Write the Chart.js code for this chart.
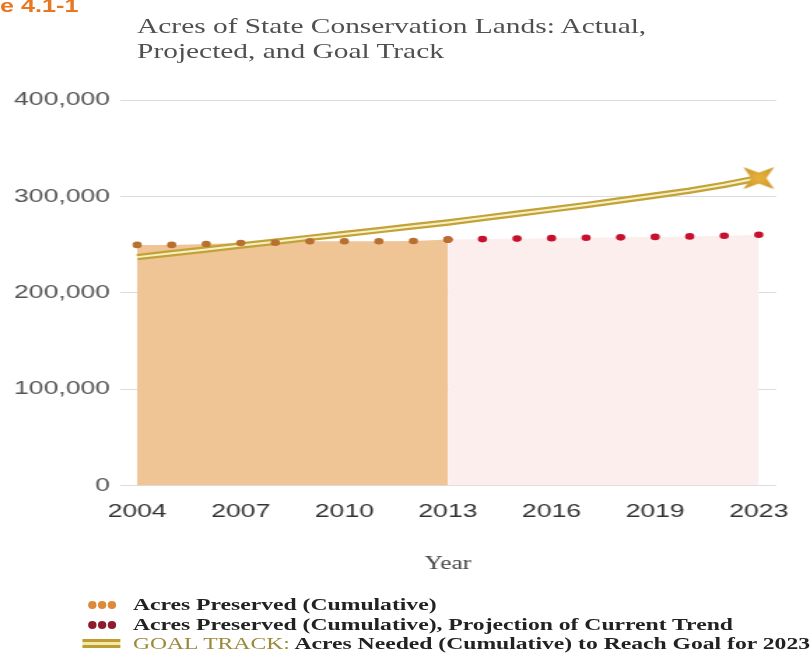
<!DOCTYPE html>
<html>
<head>
<meta charset="utf-8">
<script src="https://cdn.jsdelivr.net/npm/chart.js@4.4.1/dist/chart.umd.min.js"></script>
<style>
  html, body { margin: 0; padding: 0; background: #fff; overflow: hidden; }
  /* the reference is stretched sideways, so the whole page is laid out narrow and widened */
  #wrap {
    position: relative; width: 579px; height: 667px;
    transform: scaleX(1.399); transform-origin: 0 0;
  }
  #chart { position: absolute; left: 0; top: 0; }
  .fig {
    position: absolute; left: -45px; top: -4px; line-height: 18px;
    font: bold 18px "Liberation Sans", Arial, sans-serif; color: #e87722; white-space: nowrap;
  }
  .title {
    position: absolute; left: 98px; top: 14px; line-height: 28px;
    font: 21px "Liberation Serif", "Times New Roman", serif; color: #505050; white-space: nowrap;
  }
  .legend { position: absolute; left: 0; top: 0; }
  .row {
    position: absolute; left: 58px; height: 20px; line-height: 20px; white-space: nowrap;
    font: bold 16.9px "Liberation Serif", "Times New Roman", serif; color: #222;
  }
  .row .icon { position: absolute; left: 0; top: 0; width: 30px; height: 20px; }
  .row .txt { position: absolute; left: 37px; top: 0; }
  .dot { position: absolute; top: 6px; width: 6.2px; height: 8px; border-radius: 50%; }
  .dbl {
    position: absolute; left: 1px; top: 5px; width: 27px; height: 2.5px;
    border-top: 3px solid #bf9d32; border-bottom: 3px solid #bf9d32; background: #f2eaa8;
  }
  .goal { color: #9c8a3c; font-weight: normal; }
</style>
</head>
<body>
<div id="wrap">
  <canvas id="chart" width="579" height="667" style="width:579px;height:667px"></canvas>
  <div class="fig">Figure 4.1-1</div>
  <div class="title">Acres of State Conservation Lands: Actual,<br>Projected, and Goal Track</div>
  <div class="legend">
    <div class="row" style="top:595px">
      <div class="icon">
        <span class="dot" style="left:4.5px;background:#dd8a3a"></span>
        <span class="dot" style="left:11.5px;background:#dd8a3a"></span>
        <span class="dot" style="left:18.5px;background:#dd8a3a"></span>
      </div>
      <span class="txt">Acres Preserved (Cumulative)</span>
    </div>
    <div class="row" style="top:615px">
      <div class="icon">
        <span class="dot" style="left:4.5px;background:#8e1b2e"></span>
        <span class="dot" style="left:11.5px;background:#8e1b2e"></span>
        <span class="dot" style="left:18.5px;background:#8e1b2e"></span>
      </div>
      <span class="txt">Acres Preserved (Cumulative), Projection of Current Trend</span>
    </div>
    <div class="row" style="top:634px">
      <div class="icon"><span class="dbl"></span></div>
      <span class="txt"><span class="goal">GOAL TRACK:</span> Acres Needed (Cumulative) to Reach Goal for 2023</span>
    </div>
  </div>
</div>

<script>
// categories (one per year, last one is the goal year)
const years = ['2004', '2005', '2006', '2007', '2008', '2009', '2010', '2011', '2012', '2013',
               '2014', '2015', '2016', '2017', '2018', '2019', '2020', '2021', '2023'];

// acres
const acresPreserved = [249700, 249700, 250700, 251700, 252000, 253500, 253500, 253500, 253800, 255200,
                        null, null, null, null, null, null, null, null, null];
const acresProjected = [null, null, null, null, null, null, null, null, null, 255200,
                        255700, 256200, 256700, 257100, 257500, 258000, 258500, 259200, 260200];
const goalTrack = [237000, 241000, 245000, 249000, 253000, 257000, 261000, 265000, 269000, 273000,
                   277500, 282000, 286500, 291000, 296000, 301000, 306000, 312000, 319000];

const yTicks = [0, 100000, 200000, 300000, 400000];

// 4 point star used for the goal marker
function makeStar() {
    const c = document.createElement('canvas');
    c.width = 34;
    c.height = 34;
    const g = c.getContext('2d');
    g.translate(17, 17);
    g.beginPath();
    for (let i = 0; i < 8; i++) {
        const a = Math.PI / 4 + i * Math.PI / 4;
        const r = i % 2 === 0 ? 15.5 : 5.5;
        g.lineTo(Math.cos(a) * r, Math.sin(a) * r);
    }
    g.closePath();
    const grad = g.createRadialGradient(0, 0, 1, 0, 0, 15);
    grad.addColorStop(0, '#e6b03a');
    grad.addColorStop(1, '#c8962a');
    g.fillStyle = grad;
    g.fill();
    return c;
}
const star = makeStar();
const lastIdx = goalTrack.length - 1;

const ctx = document.getElementById('chart').getContext('2d');
new Chart(ctx, {
    type: 'line',
    data: {
        labels: years,
        datasets: [
            {
                label: 'Acres Preserved (Cumulative)',
                data: acresPreserved,
                borderColor: 'transparent',
                borderWidth: 0,
                backgroundColor: '#f0c596',
                fill: 'origin',
                pointRadius: 3.3,
                pointBorderWidth: 0,
                pointBackgroundColor: '#b8702f',
                tension: 0
            },
            {
                label: 'Acres Preserved (Cumulative), Projection of Current Trend',
                data: acresProjected,
                borderColor: 'transparent',
                borderWidth: 0,
                backgroundColor: '#fdeeee',
                fill: 'origin',
                pointRadius: 3.3,
                pointBorderWidth: 0,
                pointBackgroundColor: '#c8102e',
                tension: 0
            },
            {
                label: 'GOAL TRACK',
                data: goalTrack,
                borderColor: '#f6f1c4',
                borderWidth: 2,
                fill: false,
                tension: 0,
                pointBorderWidth: 0,
                pointRadius: (c) => c.dataIndex === lastIdx ? 10 : 0,
                pointStyle: (c) => c.dataIndex === lastIdx ? star : 'circle'
            },
            {
                label: 'GOAL TRACK outline',
                data: goalTrack,
                borderColor: '#c4a23a',
                borderWidth: 6.5,
                fill: false,
                tension: 0,
                pointRadius: 0
            }
        ]
    },
    options: {
        responsive: false,
        animation: false,
        events: [],
        layout: { padding: { left: 3, right: 19.5, top: 100, bottom: 92 } },
        plugins: {
            legend: { display: false },
            tooltip: { enabled: false },
            filler: { drawTime: 'beforeDatasetsDraw' }
        },
        scales: {
            x: {
                offset: true,
                grid: { display: false, drawTicks: false },
                border: { display: false },
                ticks: {
                    autoSkip: false,
                    maxRotation: 0,
                    padding: 15,
                    color: '#333',
                    font: { family: '"Liberation Sans", Arial, sans-serif', size: 19 },
                    callback: function (value, index) {
                        return index % 3 === 0 ? years[index] : '';
                    }
                },
                title: {
                    display: true,
                    text: 'Year',
                    color: '#444',
                    padding: { top: 15, bottom: 0 },
                    font: { family: '"Liberation Serif", "Times New Roman", serif', size: 18 }
                }
            },
            y: {
                min: yTicks[0],
                max: yTicks[yTicks.length - 1],
                afterBuildTicks: (scale) => { scale.ticks = yTicks.map(v => ({ value: v })); },
                grid: { color: '#dcdcdc', lineWidth: 1, drawTicks: false },
                border: { display: false },
                ticks: {
                    padding: 7,
                    color: '#555',
                    font: { family: '"Liberation Sans", Arial, sans-serif', size: 19 },
                    callback: (v) => v.toLocaleString('en-US')
                }
            }
        }
    }
});
</script>
</body>
</html>
